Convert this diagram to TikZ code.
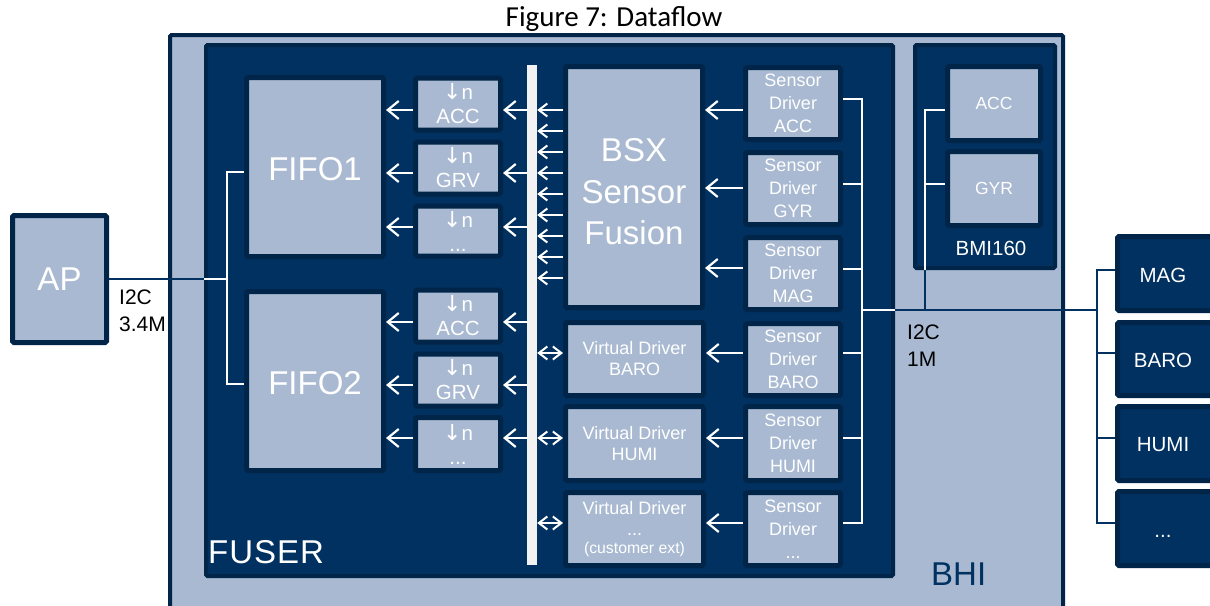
\documentclass[tikz,border=0pt]{standalone}
\usepackage{fontspec}
\setmainfont{Liberation Sans}
\newfontfamily\titlefont{Carlito}
\newfontfamily\arrfont{DejaVu Sans}
\usetikzlibrary{arrows.meta}
\definecolor{lightb}{RGB}{168,185,209}
\definecolor{darkb}{RGB}{0,49,96}
\definecolor{rimb}{RGB}{0,37,72}
\definecolor{busw}{RGB}{242,242,242}
\newcommand\dn{{\arrfont\fontsize{22}{24}\selectfont ↓}}
\begin{document}
\begin{tikzpicture}[x=1pt,y=-1pt,
  lbox/.style={fill=lightb, draw=rimb, line width=5pt, rounded corners=1.5pt, inner sep=0pt, text=white, align=center},
  dbox/.style={fill=darkb, draw=rimb, line width=5pt, rounded corners=1.5pt, inner sep=0pt, text=white, align=center},
  wline/.style={draw=white, line width=2pt},
  nline/.style={draw=darkb, line width=2pt},
  tip/.tip={Straight Barb[length=11pt,width=18pt,line width=2.2pt]},
  stip/.tip={Straight Barb[length=8.5pt,width=13pt,line width=2pt]},
  warr/.style={draw=white, line width=2.4pt, -tip},
  wsarr/.style={draw=white, line width=2.2pt, -stip},
  wdarr/.style={draw=white, line width=2.2pt, stip-stip},
  bigtxt/.style={font=\fontsize{33}{41.5}\selectfont},
  smtxt/.style={font=\fontsize{20.5}{24}\selectfont},
  sdtxt/.style={font=\fontsize{18}{23}\selectfont},
  vdtxt/.style={font=\fontsize{18}{21}\selectfont},
  lbltxt/.style={font=\fontsize{21}{27}\selectfont, text=black, inner sep=0pt, align=left},
  rtxt/.style={font=\fontsize{20.5}{24}\selectfont, text=white, inner sep=0pt}
]
\useasboundingbox (0,0) rectangle (1210,605);
\clip (0,0) rectangle (1210,605);
\fill[white] (0,0) rectangle (1210,605);

% title
\node[font=\titlefont\fontsize{29}{34}\selectfont, anchor=base, inner sep=0pt] (title) at (614,27) {Figure 7: Dataflow};

% containers
\node[fill=lightb, draw=rimb, line width=4pt, rounded corners=1.5pt, minimum width=893, minimum height=583, inner sep=0pt] (bhi) at (616.5,326.5) {};
\node[fill=darkb, draw=rimb, line width=4pt, rounded corners=1.5pt, minimum width=687, minimum height=531, inner sep=0pt] (fuser) at (549.5,310.5) {};
\node[fill=darkb, draw=rimb, line width=4pt, rounded corners=1.5pt, minimum width=140, minimum height=223, inner sep=0pt] (bmi) at (985,156.5) {};

\node[font=\fontsize{33}{40}\selectfont, text=white, anchor=base west, inner sep=0pt] (fusertxt) at (208,563) {F\kern1pt U\kern1pt S\kern1pt E\kern1pt R};
\node[font=\fontsize{33}{40}\selectfont, text=darkb, anchor=base west, inner sep=0pt] (bhitxt) at (931,585) {BHI};
\node[rtxt] (bmitxt) at (991,248) {BMI160};

% AP
\node[lbox, bigtxt, minimum width=94, minimum height=127] (ap) at (59.5,279) {AP};

% FIFOs
\node[lbox, minimum width=137, minimum height=179, label={[bigtxt, text=white, yshift=-2pt]center:FIFO1}] (fifo1) at (315,167) {};
\node[lbox, minimum width=137, minimum height=179, label={[bigtxt, text=white, yshift=-2pt]center:FIFO2}] (fifo2) at (315,381) {};

% decimation boxes
\node[lbox, smtxt, minimum width=85, minimum height=52] (d1) at (458,104) {\dn n\\ACC};
\node[lbox, smtxt, minimum width=85, minimum height=52] (d2) at (458,168) {\dn n\\GRV};
\node[lbox, smtxt, minimum width=85, minimum height=50] (d3) at (458,231) {\dn n\\...};
\node[lbox, smtxt, minimum width=85, minimum height=52] (d4) at (458,316) {\dn n\\ACC};
\node[lbox, smtxt, minimum width=85, minimum height=52] (d5) at (458,380) {\dn n\\GRV};
\node[lbox, smtxt, minimum width=85, minimum height=53] (d6) at (458,444) {\dn n\\...};

% bus bar
\node[fill=busw, minimum width=10, minimum height=500, inner sep=0pt] (bus) at (532,315) {};

% BSX
\node[lbox, minimum width=137, minimum height=241, label={[bigtxt, text=white, align=center, yshift=-5pt]center:BSX\\Sensor\\Fusion}] (bsx) at (634,187) {};

% virtual drivers
\node[lbox, vdtxt, minimum width=138, minimum height=73] (vd1) at (634.5,359) {Virtual Driver\\BARO};
\node[lbox, vdtxt, minimum width=138, minimum height=74] (vd2) at (634.5,443.5) {Virtual Driver\\HUMI};
\node[lbox, vdtxt, minimum width=138, minimum height=73] (vd3) at (634.5,529) {Virtual Driver\\...\\[-3pt]{\fontsize{15.8}{18}\selectfont(customer ext)}};

% sensor drivers
\node[lbox, sdtxt, minimum width=95, minimum height=72] (s1) at (793,103.5) {Sensor\\Driver\\ACC};
\node[lbox, sdtxt, minimum width=95, minimum height=72] (s2) at (793,188.5) {Sensor\\Driver\\GYR};
\node[lbox, sdtxt, minimum width=95, minimum height=72] (s3) at (793,273.5) {Sensor\\Driver\\MAG};
\node[lbox, sdtxt, minimum width=95, minimum height=72] (s4) at (793,359.5) {Sensor\\Driver\\BARO};
\node[lbox, sdtxt, minimum width=95, minimum height=74] (s5) at (793,443.5) {Sensor\\Driver\\HUMI};
\node[lbox, sdtxt, minimum width=95, minimum height=73] (s6) at (793,529) {Sensor\\Driver\\...};

% BMI160 sensors
\node[lbox, font=\fontsize{17.5}{21}\selectfont, minimum width=93, minimum height=74] (bacc) at (994,103.5) {ACC};
\node[lbox, font=\fontsize{17.5}{21}\selectfont, minimum width=93, minimum height=74] (bgyr) at (994,188.5) {GYR};

% external sensors
\node[dbox, minimum width=105, minimum height=74] (emag) at (1170,273.5) {};
\node[dbox, minimum width=105, minimum height=73] (ebaro) at (1170,359) {};
\node[dbox, minimum width=105, minimum height=74] (ehumi) at (1170,443.5) {};
\node[dbox, minimum width=105, minimum height=74] (edots) at (1170,528.5) {};
\node[rtxt] (emagt) at (1163,275) {MAG};
\node[rtxt] (ebarot) at (1163,360) {BARO};
\node[rtxt] (ehumit) at (1163,445) {HUMI};
\node[rtxt, anchor=base] (edotst) at (1163,537) {...};

% labels
\node[lbltxt, anchor=west] (i2cap) at (119,310.5) {I2C\\3.4M};
\node[lbltxt, anchor=west] (i2cs) at (907,345.5) {I2C\\1M};

% AP connection
\coordinate (apf) at (fuser.west |- ap.east);
\coordinate (fj) at (227,279);
\coordinate (f1j) at (227,172);
\coordinate (f2j) at (227,384);
\draw[nline] (ap.east) -- (apf);
\draw[wline] (apf) -- (fj);
\draw[wline] (fifo1.west |- f1j) -- (f1j) -- (f2j) -- (fifo2.west |- f2j);

% decimation -> FIFO, bus -> decimation
\foreach \n/\f/\y in {d1/fifo1/110, d2/fifo1/173, d3/fifo1/227, d4/fifo2/322, d5/fifo2/385, d6/fifo2/438} {
  \draw[warr] (\n.west |- 0,\y) -- (\f.east |- 0,\y);
  \draw[warr] (bus.west |- 0,\y) -- (\n.east |- 0,\y);
}

% BSX -> bus
\foreach \k in {0,...,8} {
  \pgfmathsetmacro{\yy}{110+21*\k}
  \draw[wsarr] (bsx.west |- 0,\yy) -- (bus.east |- 0,\yy);
}

% bus <-> virtual drivers
\foreach \v/\y in {vd1/353, vd2/438, vd3/523} {
  \draw[wdarr] (bus.east |- 0,\y) -- (\v.west |- 0,\y);
}

% sensor drivers -> BSX / virtual
\foreach \s/\t/\y in {s1/bsx/110, s2/bsx/188, s3/bsx/268, s4/vd1/353, s5/vd2/438, s6/vd3/523} {
  \draw[warr] (\s.west |- 0,\y) -- (\t.east |- 0,\y);
}

% sensor driver bus
\coordinate (sbT) at (862,99);
\coordinate (sbB) at (862,523);
\coordinate (sbM) at (862,310);
\draw[wline] (s1.east |- sbT) -- (sbT) -- (sbB) -- (s6.east |- sbB);
\foreach \s/\y in {s2/184, s3/269, s4/353, s5/438} {
  \draw[wline] (\s.east |- 0,\y) -- (862,\y);
}
\coordinate (fe) at (fuser.east |- sbM);
\draw[wline] (sbM) -- (fe);
\coordinate (rb) at (1097,310);
\draw[nline] (fe) -- (rb);

% BMI160 internal
\coordinate (bT) at (925,110);
\coordinate (bG) at (925,184);
\coordinate (bB) at (925,270);
\coordinate (bJ) at (925,310);
\draw[wline] (bacc.west |- bT) -- (bT) -- (bB);
\draw[wline] (bgyr.west |- bG) -- (bG);
\draw[nline] (bB) -- (bJ);

% external bus
\coordinate (eT) at (1097,270);
\coordinate (eB) at (1097,523);
\draw[nline] (emag.west |- eT) -- (eT) -- (eB) -- (edots.west |- eB);
\draw[nline] (ebaro.west |- 0,353) -- (1097,353);
\draw[nline] (ehumi.west |- 0,438) -- (1097,438);
\end{tikzpicture}
\end{document}
